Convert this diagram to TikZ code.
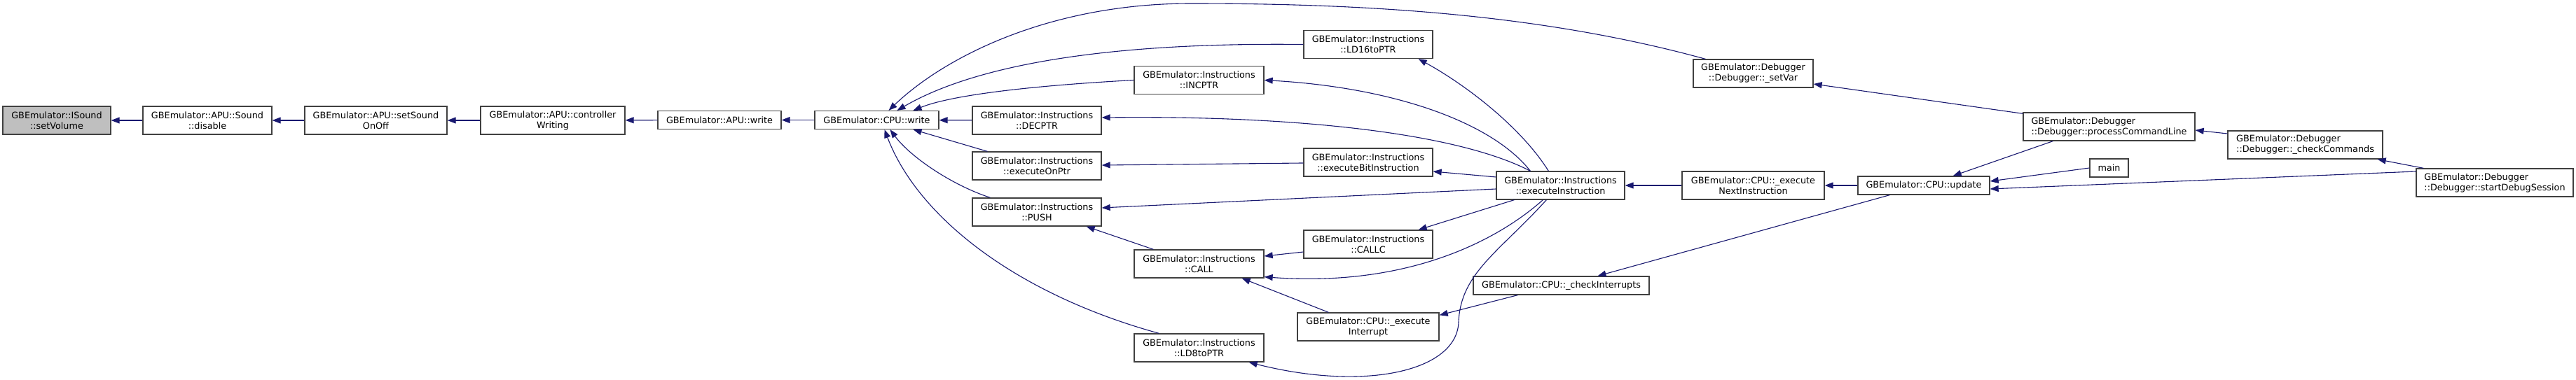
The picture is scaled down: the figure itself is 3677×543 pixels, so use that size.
\documentclass[tikz,border=0pt]{standalone}
\usepackage{fontspec}
\setmainfont{DejaVu Sans}
\usetikzlibrary{arrows.meta}
\definecolor{cgedge}{HTML}{191970}
\definecolor{cgline}{HTML}{404040}
\definecolor{cgroot}{HTML}{BFBFBF}

\begin{document}
\begin{tikzpicture}[
  x=1pt, y=-1pt,
  fnbox/.style={draw=cgline, fill=white, text=black, line width=1.3pt, inner sep=0pt,
    minimum height=40pt, align=center, font=\fontsize{12.8}{15}\selectfont},
  rootbox/.style={fnbox, fill=cgroot},
  leftbox/.style={fnbox, align=left},
  flatbox/.style={fnbox, minimum height=26pt},
  callarrow/.style={draw=cgedge, line width=1.1pt, -{Triangle[length=12pt,width=9pt]}},
]

\useasboundingbox (0,0) rectangle (3677,543);

% ===== sound chain =====
\node[rootbox, minimum width=154pt] (setVolume) at (81,172) {GBEmulator::ISound\\::setVolume};
\node[fnbox, minimum width=184pt] (disable) at (296,172) {GBEmulator::APU::Sound\\::disable};
\node[fnbox, minimum width=203pt] (soundOnOff) at (536.5,172) {GBEmulator::APU::setSound\\OnOff};
\node[fnbox, minimum width=206pt] (ctrlWriting) at (789,172) {GBEmulator::APU::controller\\Writing};
\node[flatbox, minimum width=176pt] (apuWrite) at (1027,171.5) {GBEmulator::APU::write};
\node[flatbox, minimum width=177pt] (cpuWrite) at (1251.5,171.5) {GBEmulator::CPU::write};

% ===== instructions =====
\node[fnbox, minimum width=184pt] (DECPTR) at (1480,172) {GBEmulator::Instructions\\::DECPTR};
\node[fnbox, minimum width=184pt] (execOnPtr) at (1480,237) {GBEmulator::Instructions\\::executeOnPtr};
\node[fnbox, minimum width=184pt] (PUSH) at (1480,303) {GBEmulator::Instructions\\::PUSH};
\node[fnbox, minimum width=185pt] (INCPTR) at (1711.5,114.5) {GBEmulator::Instructions\\::INCPTR};
\node[fnbox, minimum width=185pt] (CALL) at (1711.5,377) {GBEmulator::Instructions\\::CALL};
\node[fnbox, minimum width=185pt] (LD8) at (1711.5,497) {GBEmulator::Instructions\\::LD8toPTR};
\node[fnbox, minimum width=184pt] (LD16) at (1953,63.5) {GBEmulator::Instructions\\::LD16toPTR};
\node[fnbox, minimum width=184pt] (execBit) at (1953,232) {GBEmulator::Instructions\\::executeBitInstruction};
\node[fnbox, minimum width=184pt] (CALLC) at (1953,349) {GBEmulator::Instructions\\::CALLC};
\node[fnbox, minimum width=202pt] (execInt) at (1953,467) {GBEmulator::CPU::\_execute\\Interrupt};

% ===== cpu loop and debugger =====
\node[fnbox, minimum width=171pt] (setVar) at (2502.5,105) {GBEmulator::Debugger\\::Debugger::\_setVar};
\node[fnbox, minimum width=183pt] (execInstr) at (2227.5,265) {GBEmulator::Instructions\\::executeInstruction};
\node[flatbox, minimum width=251pt] (checkInt) at (2228.5,408) {GBEmulator::CPU::\_checkInterrupts};
\node[fnbox, minimum width=203pt] (execNext) at (2502.5,265) {GBEmulator::CPU::\_execute\\NextInstruction};
\node[flatbox, minimum width=188pt] (update) at (2746,265) {GBEmulator::CPU::update};
\node[leftbox, minimum width=245pt] (procCmd) at (3010.5,181) {GBEmulator::Debugger\\::Debugger::processCommandLine};
\node[flatbox, minimum width=55pt] (main) at (3010.5,240) {main};
\node[leftbox, minimum width=221pt] (checkCmds) at (3290.5,207) {GBEmulator::Debugger\\::Debugger::\_checkCommands};
\node[leftbox, minimum width=224pt] (startDebug) at (3561,261) {GBEmulator::Debugger\\::Debugger::startDebugSession};

% ===== calls along the chain =====
\draw[callarrow] (disable) -- (setVolume);
\draw[callarrow] (soundOnOff) -- (disable);
\draw[callarrow] (ctrlWriting) -- (soundOnOff);
\draw[callarrow] (apuWrite) -- (ctrlWriting);
\draw[callarrow] (cpuWrite) -- (apuWrite);

% ===== callers of CPU::write =====
\draw[callarrow] ([xshift=18pt]setVar.north west) .. controls (2200,20) and (1950,5) .. (1700,5)
  .. controls (1500,5) and (1350,80) .. ([xshift=17pt]cpuWrite.north);
\draw[callarrow] (LD16.west) .. controls (1550,60) and (1380,100) .. ([xshift=29pt]cpuWrite.north);
\draw[callarrow] (INCPTR.west) .. controls (1480,122) and (1360,135) .. ([xshift=52pt]cpuWrite.north);
\draw[callarrow] (DECPTR) -- (cpuWrite);
\draw[callarrow] ([xshift=22pt]execOnPtr.north west) -- ([xshift=52pt]cpuWrite.south);
\draw[callarrow] ([xshift=26pt]PUSH.north west) .. controls (1360,265) and (1300,225) .. ([xshift=19pt]cpuWrite.south);
\draw[callarrow] ([xshift=36pt]LD8.north west) .. controls (1450,420) and (1310,310) .. ([xshift=11pt]cpuWrite.south);

% ===== callers among the instructions =====
\draw[callarrow] ([xshift=75pt]execInstr.north west) .. controls (2170,180) and (2090,120) .. ([xshift=-21pt]LD16.south east);
\draw[callarrow] ([xshift=49pt]execInstr.north west) .. controls (2130,175) and (1990,125) .. (INCPTR.east);
\draw[callarrow] ([xshift=49pt]execInstr.north west) .. controls (2080,190) and (1850,165) .. ([yshift=4pt]DECPTR.east);
\draw[callarrow] (execBit) -- (execOnPtr);
\draw[callarrow] ([yshift=12pt]execInstr.west) -- ([yshift=-13pt]execBit.east);
\draw[callarrow] ([yshift=-5pt]execInstr.west) -- ([yshift=6pt]PUSH.east);
\draw[callarrow] ([xshift=26pt]execInstr.south west) -- ([xshift=-21pt]CALLC.north east);
\draw[callarrow] ([xshift=67pt]execInstr.south west) .. controls (2130,350) and (2000,410) .. ([yshift=2pt]CALL.south east);
\draw[callarrow] ([xshift=72pt]execInstr.south west) .. controls (2140,360) and (2085,390) .. (2082,460)
  .. controls (2080,530) and (1950,560) .. ([xshift=-22pt]LD8.south east);
\draw[callarrow] ([xshift=28pt]CALL.north west) -- ([xshift=-22pt]PUSH.south east);
\draw[callarrow] ([yshift=-11pt]CALLC.west) -- ([yshift=11pt]CALL.east);
\draw[callarrow] ([xshift=45pt]execInt.north west) -- ([xshift=-32pt]CALL.south east);
\draw[callarrow] ([xshift=64pt]checkInt.south west) -- ([yshift=-4pt]execInt.north east);

% ===== cpu loop and debugger =====
\draw[callarrow] ([xshift=46pt]update.south west) -- ([xshift=52pt]checkInt.north);
\draw[callarrow] (execNext) -- (execInstr);
\draw[callarrow] (update) -- (execNext);
\draw[callarrow] ([yshift=-2pt]procCmd.north west) -- ([yshift=-15pt]setVar.east);
\draw[callarrow] ([xshift=43pt]procCmd.south west) -- ([xshift=-53pt]update.north east);
\draw[callarrow] (main.west) -- ([yshift=6pt]update.east);
\draw[callarrow] ([yshift=16pt]startDebug.west) -- ([yshift=-5pt]update.east);
\draw[callarrow] ([yshift=16pt]checkCmds.west) -- ([yshift=-5pt]procCmd.east);
\draw[callarrow] ([xshift=11pt]startDebug.north west) -- ([xshift=-8pt]checkCmds.south east);

\end{tikzpicture}
\end{document}
